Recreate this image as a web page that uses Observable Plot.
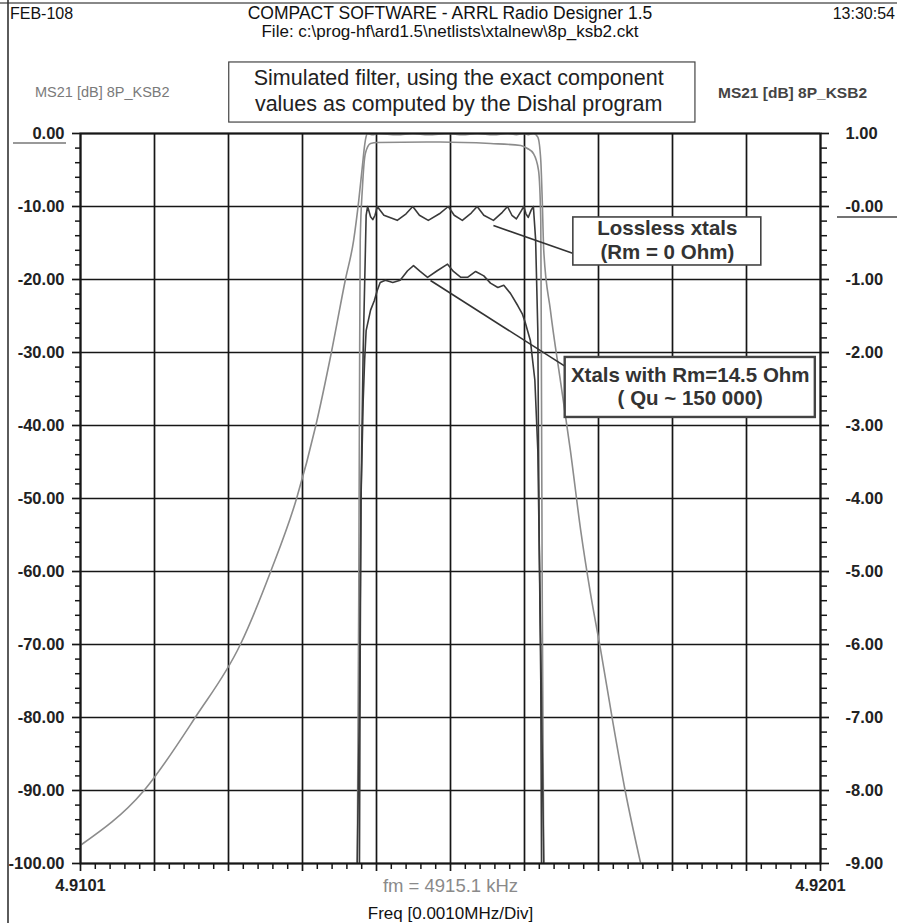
<!DOCTYPE html>
<html><head><meta charset="utf-8">
<script src="https://cdn.jsdelivr.net/npm/d3@7"></script>
<script src="https://cdn.jsdelivr.net/npm/@observablehq/plot@0.6"></script>
<style>
body{margin:0;background:#fff;}
svg{display:block;}
</style></head><body><div id="chart"></div>
<script>
// ---------- DATA (frequency in kHz, level in dB) ----------
// Wide-scale (left axis, 10 dB/div) responses
const fLosslessWide = [4910.10,4910.95,4911.65,4912.26,4912.67,4913.02,4913.28,4913.49,4913.68,4913.79,4913.86,4913.91,4913.94,4913.96,4913.98,4914.05,4914.11,4914.38,4914.59,4914.80,4915.07,4915.26,4915.46,4915.68,4915.87,4915.99,4916.09,4916.15,4916.22,4916.28,4916.32,4916.34,4916.36,4916.45,4916.59,4916.72,4916.86,4916.99,4917.13,4917.29,4917.46,4917.67];
const dbLosslessWide = [-97.5,-90.1,-80,-70,-60,-50,-40,-30,-20,-14.7,-9.2,-4.4,-1.6,-0.4,0,-0.18,0,-0.18,0,-0.18,0,-0.18,0,-0.18,0,-0.16,0,-0.15,0,-0.5,-3.7,-9.2,-16,-24.2,-34.2,-43.4,-54.4,-62.9,-70.8,-80.4,-90,-100];

const fLossyWide = [4913.84,4913.86,4913.87,4913.88,4913.91,4913.95,4914.02,4914.11,4914.96,4915.64,4916.05,4916.14,4916.22,4916.29,4916.32,4916.33,4916.34,4916.36];
const dbLossyWide = [-100,-64,-36.6,-14.7,-7.4,-2.7,-1.37,-1.23,-1.16,-1.37,-1.64,-2.05,-2.74,-5.07,-11.9,-36.6,-64,-100];

// Passband-detail (right axis, 1 dB/div) responses
const fLosslessZoom = [4913.84,4913.87,4913.89,4913.92,4913.95,4913.96,4913.98,4914.02,4914.05,4914.08,4914.11,4914.20,4914.38,4914.50,4914.59,4914.68,4914.80,4914.95,4915.07,4915.15,4915.26,4915.38,4915.46,4915.55,4915.68,4915.80,4915.87,4915.93,4915.99,4916.05,4916.09,4916.12,4916.15,4916.19,4916.22,4916.25,4916.28,4916.29,4916.30,4916.33,4916.36];
const dbLosslessZoom = [-9,-6.77,-4.03,-1.97,-0.6,-0.12,0,-0.14,-0.18,-0.12,0,-0.12,-0.19,-0.10,0,-0.12,-0.19,-0.10,0,-0.12,-0.19,-0.09,0,-0.12,-0.19,-0.08,0,-0.12,-0.17,-0.07,0,-0.10,-0.15,-0.05,0,-0.45,-1.7,-3.34,-4.7,-6.77,-9];

const fLossyZoom = [4913.87,4913.88,4913.89,4913.92,4913.94,4913.96,4914.02,4914.07,4914.11,4914.15,4914.22,4914.32,4914.42,4914.52,4914.60,4914.69,4914.79,4914.92,4915.06,4915.14,4915.24,4915.33,4915.44,4915.55,4915.64,4915.74,4915.82,4915.91,4916.01,4916.07,4916.11,4916.18,4916.24,4916.28,4916.30,4916.32,4916.33];
const dbLossyZoom = [-9,-6.08,-4.03,-2.66,-2.1,-1.70,-1.42,-1.29,-1.15,-1.04,-1.01,-1.04,-1.01,-0.88,-0.81,-0.89,-0.97,-0.88,-0.79,-0.89,-0.97,-0.97,-0.89,-0.95,-1.05,-1.11,-1.08,-1.19,-1.36,-1.47,-1.59,-1.84,-2.38,-3.34,-4.71,-6.49,-9];

// Axis ticks and labels
const xMajorTicks = [4910.1,4911.1,4912.1,4913.1,4914.1,4915.1,4916.1,4917.1,4918.1,4919.1,4920.1];
const xTickLabels = ["4.9101","","","","","","","","","","4.9201"];
const yMajorTicks = [0,-10,-20,-30,-40,-50,-60,-70,-80,-90,-100];
const leftTickLabels = ["0.00","-10.00","-20.00","-30.00","-40.00","-50.00","-60.00","-70.00","-80.00","-90.00","-100.00"];
const rightTickLabels = ["1.00","-0.00","-1.00","-2.00","-3.00","-4.00","-5.00","-6.00","-7.00","-8.00","-9.00"];
const centerFreq = 4915.1;

// Annotations
const boxes = [
  {name:"top", x1:4912.11, x2:4918.41, y1:9.73, y2:1.5, sw:1.2},
  {name:"lossless", x1:4916.76, x2:4919.30, y1:-11.5, y2:-18.08, sw:1.6},
  {name:"lossy", x1:4916.65, x2:4920.03, y1:-30.68, y2:-38.9, sw:2.4}
];
const pointers = [
  {x1:4915.68, y1:-12.6, x2:4916.76, y2:-16.44},
  {x1:4914.83, y1:-20.14, x2:4916.65, y2:-31.9}
];
const boxTextsBold = [
  {x:4918.03, y:-13.0, t:"Lossless xtals"},
  {x:4918.03, y:-16.3, t:"(Rm = 0 Ohm)"},
  {x:4918.34, y:-33.15, t:"Xtals with Rm=14.5 Ohm"},
  {x:4918.34, y:-36.3, t:"( Qu ~ 150 000)"}
];
const boxTextsTop = [
  {x:4915.21, y:7.53, t:"Simulated filter, using the exact component"},
  {x:4915.21, y:3.97, t:"values as computed by the Dishal program"}
];

// ---------- BUILD ----------
const rightToLeft = r => (r - 1) * 10; // right axis (1..-9) onto left axis (0..-100)
const zip = (fs, ds, conv = d => d) => fs.map((f, i) => ({f, db: conv(ds[i])}));
const sLosslessWide = zip(fLosslessWide, dbLosslessWide);
const sLossyWide = zip(fLossyWide, dbLossyWide);
const sLosslessZoom = zip(fLosslessZoom, dbLosslessZoom, rightToLeft);
const sLossyZoom = zip(fLossyZoom, dbLossyZoom, rightToLeft);

const xMinorTicks = d3.range(50).map(i => 4910.1 + i * 0.2).filter((v, i) => i % 5 !== 0);
const yMinorTicks = d3.range(50).map(i => -i * 2).filter((v, i) => i % 5 !== 0);

const FONT = "Liberation Sans, Arial, Helvetica, sans-serif";
const gridStroke = "#161616";

const chart = Plot.plot({
  width: 897,
  height: 923,
  marginLeft: 80,
  marginRight: 77,
  marginTop: 133,
  marginBottom: 60,
  style: {fontFamily: FONT, fontSize: "16px", background: "#fff"},
  x: {domain: [4910.1, 4920.1], axis: null},
  y: {domain: [-100, 0], axis: null},
  marks: [
    Plot.gridX(xMajorTicks, {stroke: gridStroke, strokeOpacity: 1, strokeWidth: 1.7}),
    Plot.gridY(yMajorTicks, {stroke: gridStroke, strokeOpacity: 1, strokeWidth: 1.7}),
    Plot.line(sLosslessWide, {x: "f", y: "db", stroke: "#8c8c8c", strokeWidth: 1.6, curve: "monotone-x", clip: true}),
    Plot.line(sLossyWide, {x: "f", y: "db", stroke: "#8c8c8c", strokeWidth: 1.6, curve: "monotone-x", clip: true}),
    Plot.line(sLosslessZoom, {x: "f", y: "db", stroke: "#3a3a3a", strokeWidth: 1.6, clip: true}),
    Plot.line(sLossyZoom, {x: "f", y: "db", stroke: "#3a3a3a", strokeWidth: 1.6, clip: true}),
    Plot.link(pointers, {x1: "x1", y1: "y1", x2: "x2", y2: "y2", stroke: "#333", strokeWidth: 1.6}),
    Plot.rect(boxes, {x1: "x1", x2: "x2", y1: "y1", y2: "y2", fill: "#fff", stroke: "#444", strokeWidth: d => d.sw}),
    Plot.text(boxTextsBold, {x: "x", y: "y", text: "t", fontSize: 20.5, fontWeight: "bold", fill: "#333", lineAnchor: "middle"}),
    Plot.text(boxTextsTop, {x: "x", y: "y", text: "t", fontSize: 21.5, fill: "#222", lineAnchor: "middle"}),
    Plot.frame({stroke: gridStroke, strokeWidth: 2}),
    // left axis
    Plot.axisY(yMajorTicks, {anchor: "left", tickSize: 8, tickPadding: 8, stroke: gridStroke, strokeWidth: 1.7,
      tickFormat: d => leftTickLabels[yMajorTicks.indexOf(d)], fontSize: 16.5, fontWeight: "bold", fill: "#222"}),
    Plot.axisY(yMinorTicks, {anchor: "left", tickSize: 5, stroke: gridStroke, strokeWidth: 1.5, tickFormat: () => ""}),
    // right axis
    Plot.axisY(yMajorTicks, {anchor: "right", tickSize: 8, tickPadding: 17, stroke: gridStroke, strokeWidth: 1.7,
      tickFormat: d => rightTickLabels[yMajorTicks.indexOf(d)], fontSize: 16.5, fontWeight: "bold", fill: "#222"}),
    Plot.axisY(yMinorTicks, {anchor: "right", tickSize: 6, stroke: gridStroke, strokeWidth: 1.5, tickFormat: () => ""}),
    // bottom axis
    Plot.axisX(xMajorTicks, {anchor: "bottom", tickSize: 8, tickPadding: 8, stroke: gridStroke, strokeWidth: 1.7,
      tickFormat: d => xTickLabels[xMajorTicks.indexOf(d)], fontSize: 16.5, fontWeight: "bold", fill: "#222"}),
    Plot.axisX(xMinorTicks, {anchor: "bottom", tickSize: 6, stroke: gridStroke, strokeWidth: 1.5, tickFormat: () => ""}),
    // centre frequency and axis title
    Plot.text([centerFreq], {x: d => d, frameAnchor: "bottom", dy: 23, text: () => "fm = 4915.1 kHz", fontSize: 18.5, fill: "#8a8a8a", lineAnchor: "middle"}),
    Plot.text([centerFreq], {x: d => d, frameAnchor: "bottom", dy: 50, text: () => "Freq [0.0010MHz/Div]", fontSize: 17, fontWeight: 500, fill: "#111", lineAnchor: "middle"})
  ]
});

document.getElementById("chart").appendChild(chart);

// ---------- page furniture (header, window frame, reference marks) ----------
const svg = d3.select(chart);
const furn = svg.append("g").attr("font-family", FONT);
furn.append("line").attr("x1", 0).attr("x2", 897).attr("y1", 3).attr("y2", 3).attr("stroke", "#888").attr("stroke-width", 2);
furn.append("line").attr("x1", 8).attr("x2", 8).attr("y1", 0).attr("y2", 923).attr("stroke", "#333").attr("stroke-width", 1.6);
const header = [
  {t: "FEB-108", x: 10, y: 13, a: "start", c: "#111", s: 16, w: "normal"},
  {t: "COMPACT SOFTWARE - ARRL Radio Designer 1.5", x: 450, y: 13, a: "middle", c: "#111", s: 17.5, w: "normal"},
  {t: "File: c:\\prog-hf\\ard1.5\\netlists\\xtalnew\\8p_ksb2.ckt", x: 450, y: 31, a: "middle", c: "#111", s: 17, w: "normal"},
  {t: "13:30:54", x: 895, y: 13, a: "end", c: "#111", s: 16, w: "normal"},
  {t: "MS21 [dB] 8P_KSB2", x: 35, y: 92, a: "start", c: "#7a7a7a", s: 14.5, w: "normal"},
  {t: "MS21 [dB] 8P_KSB2", x: 718, y: 92, a: "start", c: "#444", s: 15.5, w: "bold"}
];
furn.selectAll("text.h").data(header).join("text")
  .attr("x", d => d.x).attr("y", d => d.y).attr("text-anchor", d => d.a)
  .attr("dominant-baseline", "central").attr("fill", d => d.c).attr("font-size", d => d.s)
  .attr("font-weight", d => d.w)
  .text(d => d.t);
// reference underline marks next to 0.00 (left) and -0.00 (right)
furn.append("line").attr("x1", 13).attr("x2", 66).attr("y1", 143).attr("y2", 143).attr("stroke", "#777").attr("stroke-width", 1.6);
furn.append("line").attr("x1", 837).attr("x2", 897).attr("y1", 217).attr("y2", 217).attr("stroke", "#444").attr("stroke-width", 1.6);
</script>
</body></html>
